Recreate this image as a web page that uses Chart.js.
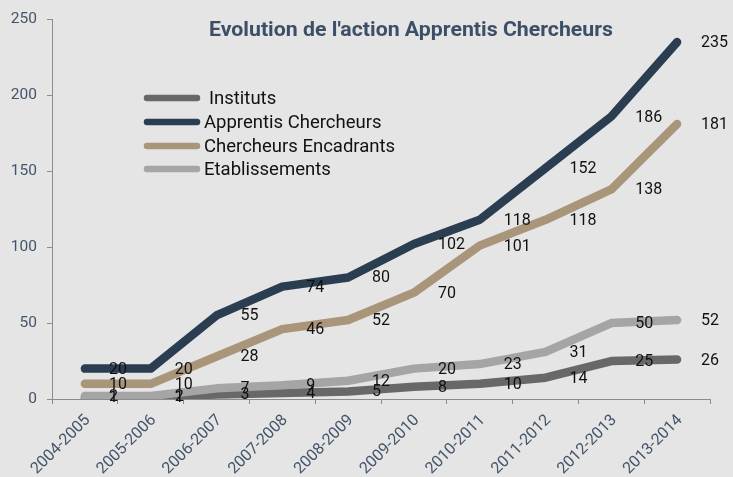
<!DOCTYPE html>
<html><head><meta charset="utf-8">
<script src="https://cdn.jsdelivr.net/npm/chart.js@4.4.1/dist/chart.umd.min.js"></script>
<style>html,body{margin:0;padding:0;background:#e4e5e4;overflow:hidden}#wrap{width:733px;height:477px;position:relative}</style>
</head><body><div id="wrap"><canvas id="c" width="733" height="477"></canvas></div>
<script>
const categories = ['2004-2005','2005-2006','2006-2007','2007-2008','2008-2009','2009-2010','2010-2011','2011-2012','2012-2013','2013-2014'];
const instituts = [1,1,3,4,5,8,10,14,25,26];
const apprentis = [20,20,55,74,80,102,118,152,186,235];
const encadrants = [10,10,28,46,52,70,101,118,138,181];
const etablissements = [2,2,7,9,12,20,23,31,50,52];
const yTicks = [0,50,100,150,200,250];
const seriesNames = ['Instituts','Apprentis Chercheurs','Chercheurs Encadrants','Etablissements'];
const seriesColors = ['#686868','#2b3d51','#a8957a','#a5a5a5'];
const titleText = "Evolution de l'action Apprentis Chercheurs";

const slate = '#44546a';
const axisGrey = '#8c8c8c';

const overlayPlugin = {
  id: 'overlay',
  afterDatasetsDraw(chart) {
    const ctx = chart.ctx;
    ctx.save();
    // data labels
    ctx.font = '16px Roboto';
    ctx.fillStyle = '#111';
    ctx.textAlign = 'left';
    ctx.textBaseline = 'middle';
    chart.data.datasets.forEach((ds, i) => {
      const meta = chart.getDatasetMeta(i);
      meta.data.forEach((pt, j) => {
        ctx.fillText(String(ds.data[j]), pt.x + 24, pt.y + 1);
      });
    });
    // title
    ctx.font = 'bold 21px Roboto';
    ctx.fillStyle = '#3d4f67';
    ctx.textAlign = 'center';
    ctx.textBaseline = 'alphabetic';
    const w = ctx.measureText(titleText).width;
    const target = 404;
    ctx.save();
    ctx.translate(411, 36);
    ctx.scale(target / w, 1);
    ctx.fillText(titleText, 0, 0);
    ctx.restore();
    // legend
    const ly = [98, 122, 146, 169];
    ctx.lineCap = 'round';
    ctx.lineWidth = 6.5;
    ctx.font = '18.5px Roboto';
    ctx.fillStyle = '#111';
    ctx.textAlign = 'left';
    ctx.textBaseline = 'middle';
    seriesNames.forEach((n, i) => {
      ctx.strokeStyle = seriesColors[i];
      ctx.beginPath();
      ctx.moveTo(147, ly[i]);
      ctx.lineTo(197, ly[i]);
      ctx.stroke();
      ctx.fillText(n, i === 0 ? 209 : 204, ly[i] + 1);
    });
    ctx.restore();
  }
};

const mk = (i, data, order) => ({
  label: seriesNames[i], data, borderColor: seriesColors[i], backgroundColor: seriesColors[i],
  borderWidth: 8.5, borderCapStyle: 'round', borderJoinStyle: 'round', tension: 0,
  pointRadius: 0, pointHoverRadius: 0, fill: false, order
});

new Chart(document.getElementById('c'), {
  type: 'line',
  data: {
    labels: categories,
    datasets: [mk(0, instituts, 3), mk(1, apprentis, 1), mk(2, encadrants, 2), mk(3, etablissements, 0)]
  },
  options: {
    responsive: false, animation: false,
    layout: { padding: { top: 19, right: 23, left: 0, bottom: 0 } },
    plugins: { legend: { display: false }, title: { display: false }, tooltip: { enabled: false } },
    scales: {
      x: {
        offset: true,
        grid: { offset: true, drawOnChartArea: false, drawTicks: true, tickLength: 5, color: axisGrey },
        border: { display: true, color: axisGrey, width: 1 },
        ticks: { color: slate, font: { family: 'Roboto', size: 16 }, minRotation: 45, maxRotation: 45, padding: 7, labelOffset: 3, autoSkip: false },
        afterFit(s) { s.height = 78; }
      },
      y: {
        min: 0, max: 250,
        afterBuildTicks(s) { s.ticks = yTicks.map(v => ({ value: v })); },
        grid: { drawOnChartArea: false, drawTicks: true, tickLength: 5, color: axisGrey },
        border: { display: true, color: axisGrey, width: 1 },
        ticks: { color: slate, font: { family: 'Roboto', size: 15.5 }, padding: 10 },
        afterFit(s) { s.width = 52; }
      }
    }
  },
  plugins: [overlayPlugin]
});
</script></body></html>
